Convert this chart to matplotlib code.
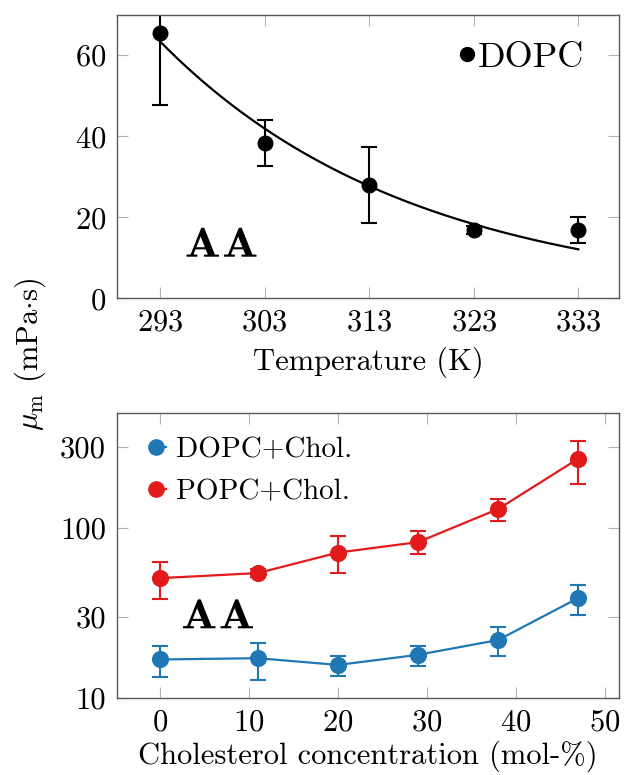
import numpy as np
import matplotlib
matplotlib.use("Agg")
from matplotlib import pyplot as plt
from matplotlib.lines import Line2D
from matplotlib.legend_handler import HandlerBase
from matplotlib.textpath import TextPath
from matplotlib.patches import PathPatch
from matplotlib.font_manager import FontProperties
from matplotlib.transforms import Affine2D, IdentityTransform

plt.rcParams['font.family'] = 'serif'
plt.rcParams['font.serif'] = ['cmr10']
plt.rcParams['mathtext.fontset'] = 'cm'
plt.rcParams['axes.formatter.use_mathtext'] = True

# temperature series (DOPC)
temps = [293, 303, 313, 323, 333]
mu_dopc = [65.4, 38.3, 28.0, 16.8, 16.9]
mu_dopc_err = [17.7, 5.7, 9.3, 1.0, 3.3]
# exponential fit mu = amp * exp(-rate * (T - 293))
fit_amp = 63.4
fit_rate = 0.0414
temp_ticks = [293, 303, 313, 323, 333]

# cholesterol series
chol = [0, 11, 20, 29, 38, 47]
mu_dopc_chol = [16.9, 17.2, 15.7, 18.0, 22.0, 38.8]
dopc_chol_lo = [13.4, 12.8, 13.5, 15.5, 17.6, 30.9]
dopc_chol_hi = [20.3, 21.2, 17.6, 20.3, 26.4, 46.4]
mu_popc_chol = [50.8, 54.4, 71.8, 82.7, 129.4, 255.7]
popc_chol_lo = [38.4, 51.5, 54.4, 70.5, 110.4, 182.0]
popc_chol_hi = [62.8, 57.5, 89.3, 95.5, 148.0, 327.0]
chol_ticks = [0, 10, 20, 30, 40, 50]
log_ticks = [10, 30, 100, 300]

blue = '#1f77b4'
red = '#e31a1c'
fs = 22


class StubHandler(HandlerBase):
    # dot on the left with a short line running off to the right
    def create_artists(self, legend, orig_handle, xdescent, ydescent,
                       width, height, fontsize, trans):
        y = (height - ydescent) / 2
        ms = orig_handle.get_markersize()
        r = ms * legend.figure.dpi / 72 / 2
        col = orig_handle.get_color()
        line = Line2D([-xdescent + r, width - xdescent], [y, y], color=col,
                      lw=orig_handle.get_linewidth(), transform=trans)
        dot = Line2D([-xdescent + r], [y], ls='none', marker='o', ms=ms,
                     color=col, transform=trans)
        return [line, dot]


def style_axes(ax):
    for s in ax.spines.values():
        s.set_color('0.35')
        s.set_linewidth(1.0)
    ax.tick_params(which='both', direction='in', top=True, right=True,
                   length=8, width=0.8, color='0.7', labelsize=fs, pad=8)
    ax.tick_params(which='minor', length=0)


def wide_bold(fig, text, left, baseline, cap=29, width=32.5, gap=5):
    # bold extended letters drawn as paths, in pixel coordinates
    prop = FontProperties(family='cmb10')
    x = left
    for ch in text:
        glyph = TextPath((0, 0), ch, size=1, prop=prop)
        ext = glyph.get_extents()
        tr = (Affine2D().translate(-ext.x0, 0)
              .scale(width / ext.width, cap / ext.height)
              .translate(x, baseline))
        patch = PathPatch(tr.transform_path(glyph), fc='black', ec='none',
                          transform=IdentityTransform())
        fig.add_artist(patch)
        x += width + gap


fig = plt.figure(figsize=(6.37, 7.75), dpi=100)
ax1 = fig.add_axes([0.184, 0.615, 0.788, 0.366])
ax2 = fig.add_axes([0.184, 0.099, 0.788, 0.368])

# top panel
tt = np.linspace(293, 333, 200)
ax1.plot(tt, fit_amp * np.exp(-fit_rate * (tt - 293)), color='black', lw=1.6)
ax1.errorbar(temps, mu_dopc, yerr=mu_dopc_err, fmt='o', color='black',
             ms=10.5, capsize=6, elinewidth=1.5, capthick=1.5)
ax1.set_xlim(288.9, 336.9)
ax1.set_ylim(0, 70)
ax1.set_xticks(temp_ticks)
ax1.set_yticks([0, 20, 40, 60])
ax1.set_xlabel('Temperature (K)', fontsize=fs, labelpad=7)
style_axes(ax1)
h_top = Line2D([], [], ls='none', marker='o', color='black', ms=10)
ax1.legend([h_top], ['DOPC'], loc='upper right', bbox_to_anchor=(0.984, 1.0),
           frameon=False, fontsize=26, handlelength=0.5, handletextpad=0.05,
           borderaxespad=0.35)

# bottom panel
ax2.errorbar(chol, mu_dopc_chol,
             yerr=[np.subtract(mu_dopc_chol, dopc_chol_lo),
                   np.subtract(dopc_chol_hi, mu_dopc_chol)],
             fmt='-o', color=blue, ms=11.3, lw=1.6, capsize=6,
             elinewidth=1.5, capthick=1.5)
ax2.errorbar(chol, mu_popc_chol,
             yerr=[np.subtract(mu_popc_chol, popc_chol_lo),
                   np.subtract(popc_chol_hi, mu_popc_chol)],
             fmt='-o', color=red, ms=11.3, lw=1.6, capsize=6,
             elinewidth=1.5, capthick=1.5)
ax2.set_yscale('log')
ax2.set_xlim(-4.8, 51.6)
ax2.set_ylim(10, 474)
ax2.set_xticks(chol_ticks)
ax2.set_yticks(log_ticks)
ax2.set_yticklabels([str(v) for v in log_ticks])
ax2.yaxis.set_minor_locator(matplotlib.ticker.NullLocator())
ax2.set_xlabel('Cholesterol concentration (mol-%)', fontsize=fs, labelpad=3)
style_axes(ax2)
h_blue = Line2D([], [], color=blue, marker='o', ms=11, lw=1.6)
h_red = Line2D([], [], color=red, marker='o', ms=11, lw=1.6)
ax2.legend([h_blue, h_red], ['DOPC+Chol.', 'POPC+Chol.'], loc='upper left',
           bbox_to_anchor=(0.01, 1.0), frameon=False, fontsize=21,
           handlelength=0.7, handletextpad=0.35, labelspacing=0.55,
           borderaxespad=0.4,
           handler_map={h_blue: StubHandler(), h_red: StubHandler()})

wide_bold(fig, 'AA', 186.5, 775 - 256.7)
wide_bold(fig, 'AA', 183.0, 775 - 628.3)

fig.text(0.048, 0.543, r'$\mu_\mathrm{m}$ (mPa$\cdot$s)', rotation=90,
         fontsize=fs, ha='center', va='center')

fig.savefig('out.png', dpi=100)
